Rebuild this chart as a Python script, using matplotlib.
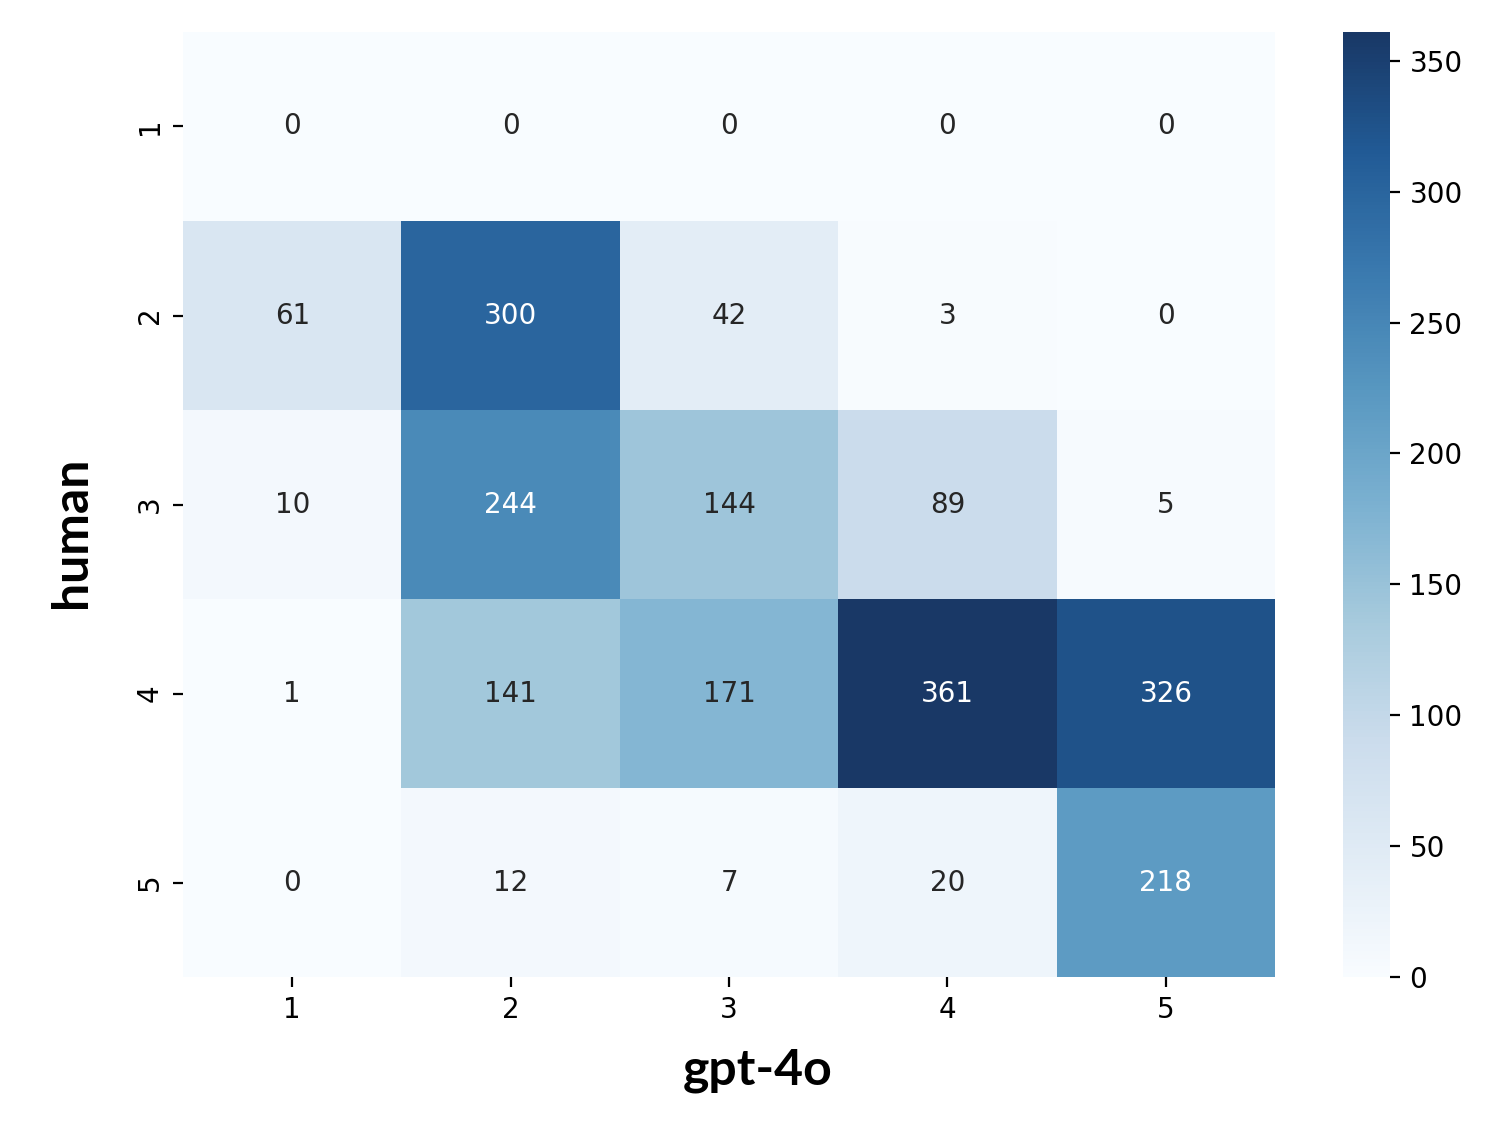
import matplotlib
matplotlib.use("Agg")
import matplotlib.pyplot as plt
import matplotlib.colors as mcolors
import seaborn as sns
import numpy as np

plt.rcParams['font.family'] = ['DejaVu Sans']

gpt_labels = ["1", "2", "3", "4", "5"]
human_labels = ["1", "2", "3", "4", "5"]
row_1 = [0, 0, 0, 0, 0]
row_2 = [61, 300, 42, 3, 0]
row_3 = [10, 244, 144, 89, 5]
row_4 = [1, 141, 171, 361, 326]
row_5 = [0, 12, 7, 20, 218]

data = np.array([row_1, row_2, row_3, row_4, row_5])

# slightly desaturated Blues, matching the reference's softer tones
base = plt.get_cmap("Blues")(np.linspace(0, 1, 256))[:, :3]
hsv = mcolors.rgb_to_hsv(base)
hsv[:, 1] *= 0.82
hsv[:, 2] *= np.linspace(1.0, 0.95, 256)
soft = mcolors.hsv_to_rgb(hsv)
cmap = mcolors.ListedColormap(soft)

fig = plt.figure(figsize=(7.49, 5.67), dpi=200)
ax = fig.add_axes([0.1222, 0.1384, 0.7290, 0.8334])
cax = fig.add_axes([0.8965, 0.1384, 0.0314, 0.8334])

sns.heatmap(data, annot=True, fmt="d", cmap=cmap, ax=ax, cbar_ax=cax,
            xticklabels=gpt_labels, yticklabels=human_labels,
            annot_kws={"family": "DejaVu Sans"})
for t in ax.get_xticklabels() + ax.get_yticklabels() + cax.get_yticklabels():
    t.set_family("DejaVu Sans")

lab_font = dict(fontsize=18, fontweight="bold", family=["Lato", "DejaVu Sans"])
ax.set_xlabel("gpt-4o", **lab_font)
ax.set_ylabel("human", **lab_font)
ax.xaxis.set_label_coords(0.526, -0.075)
ax.yaxis.set_label_coords(-0.082, 0.471)

fig.savefig("out.png", dpi=200)
